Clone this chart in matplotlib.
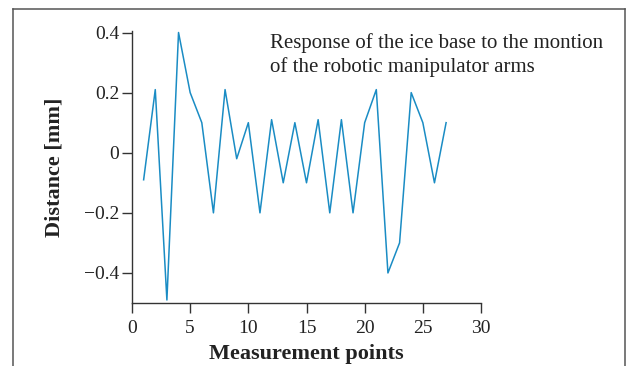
import matplotlib
matplotlib.use("Agg")
import matplotlib.pyplot as plt
from matplotlib.lines import Line2D

points = list(range(1, 28))
distance = [-0.09, 0.21, -0.49, 0.40, 0.20, 0.10, -0.20, 0.21, -0.02, 0.10,
            -0.20, 0.11, -0.10, 0.10, -0.10, 0.11, -0.20, 0.11, -0.20, 0.10,
            0.21, -0.40, -0.30, 0.20, 0.10, -0.10, 0.10]
xticks = [0, 5, 10, 15, 20, 25, 30]
yticks = [-0.4, -0.2, 0, 0.2, 0.4]
ytick_labels = ["\u22120.4", "\u22120.2", "0", "0.2", "0.4"]

plt.rcParams['font.family'] = ['Liberation Serif', 'DejaVu Serif']

fig = plt.figure(figsize=(6.3, 3.66), dpi=100)
W, H = 630, 366

# figure frame (open at the bottom)
fc = '#555555'
fig.add_artist(Line2D([13/W, 13/W], [0, 1 - 9/H], color=fc, lw=1.1, transform=fig.transFigure))
fig.add_artist(Line2D([13/W, 625/W], [1 - 9/H, 1 - 9/H], color=fc, lw=1.1, transform=fig.transFigure))
fig.add_artist(Line2D([625/W, 625/W], [0, 1 - 9/H], color=fc, lw=1.1, transform=fig.transFigure))

ax = fig.add_axes([132/W, 63/H, (481-132)/W, (303-31)/H])
ax.plot(points, distance, color='#1a8cc4', lw=1.1)

ax.set_xlim(0, 30)
ax.set_ylim(-0.5, 0.405)
ax.set_xticks(xticks)
ax.set_yticks(yticks)
ax.set_yticklabels(ytick_labels)
for s in ['top', 'right']:
    ax.spines[s].set_visible(False)
for s in ['left', 'bottom']:
    ax.spines[s].set_color('#333333')
    ax.spines[s].set_linewidth(1.0)
ax.tick_params(direction='out', length=7, width=1, colors='#333333',
               labelsize=14, labelcolor='#222222')
ax.tick_params(axis='x', pad=5)
ax.tick_params(axis='y', pad=2)

ax.set_xlabel("Measurement points", fontsize=16, fontweight='bold', color='#222222', labelpad=5)
ax.set_ylabel("Distance [mm]", fontsize=16, fontweight='bold', color='#222222', labelpad=14)

fig.text(270/W, 1 - 55/H, "Response of the ice base to the montion\nof the robotic manipulator arms",
         fontsize=15, color='#222222', ha='left', va='center', linespacing=1.25)

fig.savefig("out.png", dpi=100)
